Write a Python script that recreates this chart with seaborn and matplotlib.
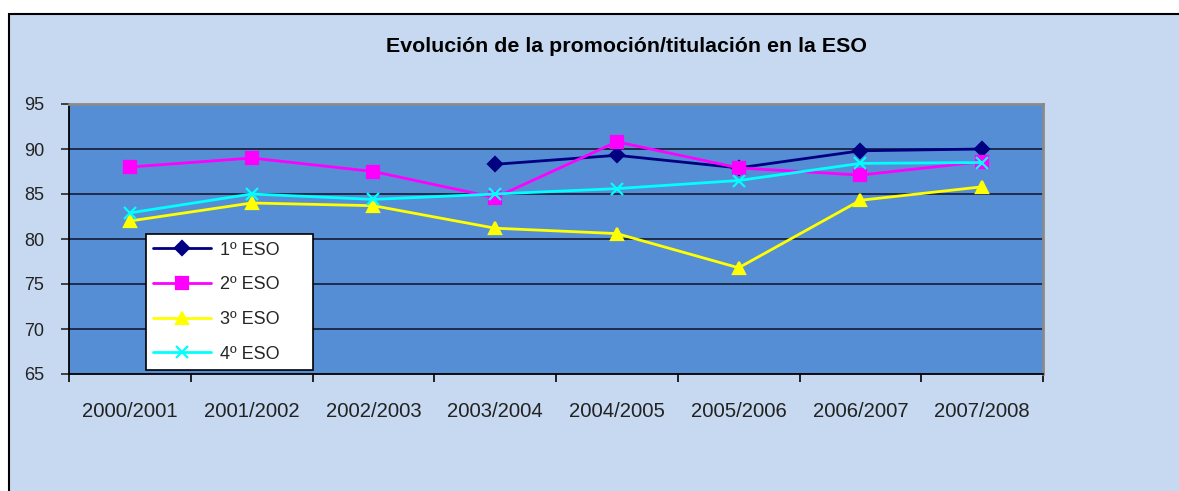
import numpy as np
import pandas as pd
import matplotlib
matplotlib.use("Agg")
import matplotlib.pyplot as plt
from matplotlib.patches import Rectangle
import seaborn as sns

years = ["2000/2001", "2001/2002", "2002/2003", "2003/2004",
         "2004/2005", "2005/2006", "2006/2007", "2007/2008"]
eso1 = [np.nan, np.nan, np.nan, 88.3, 89.3, 87.9, 89.8, 90.0]
eso2 = [88.0, 89.0, 87.5, 84.6, 90.8, 87.9, 87.1, 88.6]
eso3 = [82.0, 84.0, 83.7, 81.2, 80.6, 76.8, 84.3, 85.8]
eso4 = [82.9, 85.0, 84.4, 85.0, 85.6, 86.5, 88.4, 88.5]
series = ["1º ESO", "2º ESO", "3º ESO", "4º ESO"]
yticks = [65, 70, 75, 80, 85, 90, 95]

colors = {"1º ESO": "#000080", "2º ESO": "#FF00FF",
          "3º ESO": "#FFFF00", "4º ESO": "#00FFFF"}
markers = {"1º ESO": "D", "2º ESO": "s", "3º ESO": "^", "4º ESO": "x"}
sizes = {"1º ESO": 7, "2º ESO": 8.5, "3º ESO": 9, "4º ESO": 8}


def build_frame():
    '''long table: one row per course and year'''
    wide = pd.DataFrame({"Curso": years, "1º ESO": eso1, "2º ESO": eso2,
                         "3º ESO": eso3, "4º ESO": eso4})
    return wide.melt(id_vars="Curso", var_name="Serie", value_name="Valor")


def main():
    df = build_frame()
    sns.set_style("white")
    plt.rcParams["font.family"] = ["Liberation Sans", "DejaVu Sans"]

    fig = plt.figure(figsize=(11.79, 4.91), dpi=100, facecolor="white")
    fig.patches.append(Rectangle((9 / 1179, -0.1), 1.2, 1.1 - 14 / 491,
                                 transform=fig.transFigure, facecolor="#C6D9F0",
                                 edgecolor="black", linewidth=1.5, zorder=-5))
    ax = fig.add_axes([69 / 1179, 1 - 374 / 491, 974 / 1179, 270 / 491])
    ax.set_facecolor("#558ED5")

    for s in series:
        sub = df[df["Serie"] == s]
        sns.lineplot(data=sub, x="Curso", y="Valor", label=s, color=colors[s],
                     marker=markers[s], markersize=sizes[s],
                     markeredgecolor=colors[s], markerfacecolor=colors[s],
                     markeredgewidth=1.6, sort=False, errorbar=None,
                     linewidth=2, ax=ax, zorder=3)

    ax.set_xlim(-0.5, 7.5)
    ax.set_ylim(65, 95)
    ax.set_yticks(yticks)
    ax.set_xticks(range(len(years)))
    ax.set_xticklabels(years)
    ax.set_xticks(np.arange(-0.5, len(years)), minor=True)
    ax.tick_params(axis="x", which="major", length=0, pad=20, labelsize=14.6,
                   labelcolor="#222222")
    ax.tick_params(axis="x", which="minor", length=6, width=1.2, direction="out",
                   color="black", bottom=True)
    ax.tick_params(axis="y", length=6, width=1.2, direction="out", left=True,
                   pad=12, labelsize=13, labelcolor="#222222")
    ax.set_xlabel("")
    ax.set_ylabel("")
    ax.grid(False)
    for v in yticks[1:-1]:
        ax.axhline(v, color="#1A2340", linewidth=1.3, zorder=1)

    for side in ["left", "bottom"]:
        ax.spines[side].set_color("black")
        ax.spines[side].set_linewidth(1.3)
    for side in ["top", "right"]:
        ax.spines[side].set_color("#8A8A8A")
        ax.spines[side].set_linewidth(2)

    handles, labels = ax.get_legend_handles_labels()
    leg = ax.legend(handles, labels, loc="lower left",
                    bbox_to_anchor=(77 / 974, 4 / 270, 167 / 974, 133 / 270),
                    mode="expand", frameon=True, fancybox=False, framealpha=1,
                    facecolor="white", edgecolor="black", fontsize=13,
                    handlelength=3.2, handletextpad=0.5, labelspacing=0.98,
                    borderaxespad=0, borderpad=0.4)
    leg.get_frame().set_linewidth(1.2)
    leg.set_zorder(5)

    fig.text(627 / 1179, 1 - 47 / 491,
             "Evolución de la promoción/titulación en la ESO",
             ha="center", va="center", fontsize=15.4, fontweight="bold",
             color="black")

    fig.savefig("out.png", dpi=100, facecolor="white")


if __name__ == "__main__":
    main()
